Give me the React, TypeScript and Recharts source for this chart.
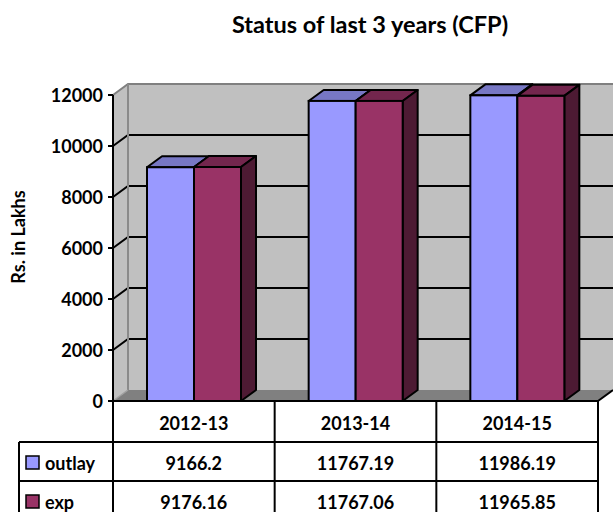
import React from 'react';
import { BarChart, Bar, XAxis, YAxis, ReferenceArea } from 'recharts';

const categories = ['2012-13', '2013-14', '2014-15'];
const outlay = [9166.2, 11767.19, 11986.19];
const exp = [9176.16, 11767.06, 11965.85];
const yTicks = [0, 2000, 4000, 6000, 8000, 10000, 12000];
const seriesNames = ['outlay', 'exp'];

const data = categories.map((c, i) => ({ cat: c, outlay: outlay[i], exp: exp[i] }));

const DX = 15;
const DY = 11;
const FONT = 'Lato, "Open Sans", sans-serif';
const LEG_W = 94;
const HEAD_H = 41;
const ROW_H = 39;

const COLORS: Record<string, { front: string; top: string; side: string }> = {
  outlay: { front: '#9999ff', top: '#7777c4', side: '#5c5c99' },
  exp: { front: '#993366', top: '#73264d', side: '#4d1a33' },
};

const make3DBar = (key: string) => (props: any) => {
  const { x, y, width: w, height: h } = props;
  if (w == null || h == null) return null;
  const c = COLORS[key];
  return (
    <g>
      <polygon
        points={`${x},${y} ${x + DX},${y - DY} ${x + w + DX},${y - DY} ${x + w},${y}`}
        fill={c.top}
        stroke="#000"
        strokeWidth={2}
        strokeLinejoin="round"
      />
      <polygon
        points={`${x + w},${y} ${x + w + DX},${y - DY} ${x + w + DX},${y + h - DY} ${x + w},${y + h}`}
        fill={c.side}
        stroke="#000"
        strokeWidth={2}
        strokeLinejoin="round"
      />
      <rect x={x} y={y} width={w} height={h} fill={c.front} stroke="#000" strokeWidth={2} />
    </g>
  );
};

const Walls = (props: any) => {
  const { x, y, width: w, height: h } = props;
  const yMax = yTicks[yTicks.length - 1];
  const yOf = (v: number) => y + h * (1 - v / yMax);
  return (
    <g>
      <rect x={x + DX} y={y - DY} width={w} height={h} fill="#c0c0c0" />
      <polygon
        points={`${x},${y} ${x + DX},${y - DY} ${x + DX},${y + h - DY} ${x},${y + h}`}
        fill="#c0c0c0"
      />
      {yTicks
        .filter((v) => v > 0 && v < yMax)
        .map((v) => {
          const yy = yOf(v);
          return (
            <polyline
              key={v}
              points={`${x},${yy} ${x + DX},${yy - DY} ${x + w + DX},${yy - DY}`}
              fill="none"
              stroke="#000"
              strokeWidth={2}
            />
          );
        })}
      <polyline
        points={`${x},${y} ${x + DX},${y - DY} ${x + w + DX},${y - DY}`}
        fill="none"
        stroke="#808080"
        strokeWidth={2}
      />
      <line x1={x + DX} y1={y - DY} x2={x + DX} y2={y + h - DY} stroke="#8a8a8a" strokeWidth={2} />
      <polygon
        points={`${x},${y + h} ${x + DX},${y + h - DY} ${x + w + DX},${y + h - DY} ${x + w},${y + h}`}
        fill="#808080"
      />
      <line x1={x} y1={y + h} x2={x + DX} y2={y + h - DY} stroke="#a0a0a0" strokeWidth={1.5} />
      <line x1={x + w} y1={y + h} x2={x + w + DX} y2={y + h - DY} stroke="#000" strokeWidth={2} />
    </g>
  );
};

const textStyle = {
  fontFamily: FONT,
  fontWeight: 700,
  fontSize: 18,
  fill: '#000',
};

const TableTick = (props: any) => {
  const { x, y, payload } = props;
  const i = payload.index;
  const half = payload.offset;
  const left = x - half;
  const right = x + half;
  const r1 = y + HEAD_H;
  const r2 = r1 + ROW_H;
  const bottom = r2 + ROW_H + 10;
  const d = data[i];
  return (
    <g>
      <line x1={right} y1={y} x2={right} y2={bottom} stroke="#000" strokeWidth={2} />
      <line x1={left} y1={r1} x2={right} y2={r1} stroke="#000" strokeWidth={2} />
      <line x1={left} y1={r2} x2={right} y2={r2} stroke="#000" strokeWidth={2} />
      <text x={x} y={y + HEAD_H / 2 + 1} textAnchor="middle" dominantBaseline="central" style={textStyle}>
        {d.cat}
      </text>
      <text x={x} y={r1 + ROW_H / 2 + 1} textAnchor="middle" dominantBaseline="central" style={textStyle}>
        {String(d.outlay)}
      </text>
      <text x={x} y={r2 + ROW_H / 2 + 1} textAnchor="middle" dominantBaseline="central" style={textStyle}>
        {String(d.exp)}
      </text>
      {i === 0 && (
        <g>
          <line x1={left} y1={y} x2={left} y2={bottom} stroke="#000" strokeWidth={2} />
          <line x1={left - LEG_W} y1={r1} x2={left - LEG_W} y2={bottom} stroke="#000" strokeWidth={2} />
          <line x1={left - LEG_W} y1={r1} x2={left} y2={r1} stroke="#000" strokeWidth={2} />
          <line x1={left - LEG_W} y1={r2} x2={left} y2={r2} stroke="#000" strokeWidth={2} />
          {seriesNames.map((s, k) => {
            const rowTop = r1 + k * ROW_H;
            const cy = rowTop + ROW_H / 2 + 1;
            return (
              <g key={s}>
                <rect
                  x={left - LEG_W + 7}
                  y={cy - 6.5}
                  width={13}
                  height={13}
                  fill={COLORS[s].front}
                  stroke="#000"
                  strokeWidth={1.5}
                />
                <text x={left - LEG_W + 26} y={cy} textAnchor="start" dominantBaseline="central" style={textStyle}>
                  {s}
                </text>
              </g>
            );
          })}
        </g>
      )}
    </g>
  );
};

const YTick = (props: any) => {
  const { x, y, payload } = props;
  return (
    <text x={x} y={y} textAnchor="end" dominantBaseline="central" style={textStyle}>
      {payload.value}
    </text>
  );
};

export default function App() {
  return (
    <div style={{ position: 'absolute', left: 0, top: 0, width: 613, height: 512, background: '#fff' }}>
      <BarChart
        width={613}
        height={512}
        data={data}
        margin={{ top: 95, right: 15, bottom: 0, left: 63 }}
        barSize={47}
        barGap={0}
      >
        <ReferenceArea y1={0} y2={12000} shape={Walls} fillOpacity={1} />
        <XAxis
          dataKey="cat"
          height={111}
          interval={0}
          tickLine={false}
          tickSize={0}
          tickMargin={0}
          axisLine={{ stroke: '#000', strokeWidth: 2 }}
          tick={<TableTick />}
        />
        <YAxis
          width={50}
          domain={[0, 12000]}
          ticks={yTicks}
          interval={0}
          tickSize={5}
          tickMargin={5}
          tickLine={{ stroke: '#000', strokeWidth: 2 }}
          axisLine={{ stroke: '#000', strokeWidth: 2 }}
          tick={<YTick />}
        />
        <Bar dataKey="outlay" fill={COLORS.outlay.front} shape={make3DBar('outlay')} isAnimationActive={false} />
        <Bar dataKey="exp" fill={COLORS.exp.front} shape={make3DBar('exp')} isAnimationActive={false} />
      </BarChart>
      <div
        style={{
          position: 'absolute',
          left: 120,
          width: 500,
          top: 11,
          textAlign: 'center',
          fontFamily: FONT,
          fontWeight: 700,
          fontSize: 23.5,
          lineHeight: '27px',
          color: '#000',
        }}
      >
        Status of last 3 years (CFP)
      </div>
      <div
        style={{
          position: 'absolute',
          left: 18,
          top: 237,
          transform: 'translate(-50%, -50%) rotate(-90deg)',
          whiteSpace: 'nowrap',
          fontFamily: FONT,
          fontWeight: 700,
          fontSize: 18,
          lineHeight: '20px',
          color: '#000',
        }}
      >
        Rs. in Lakhs
      </div>
    </div>
  );
}
